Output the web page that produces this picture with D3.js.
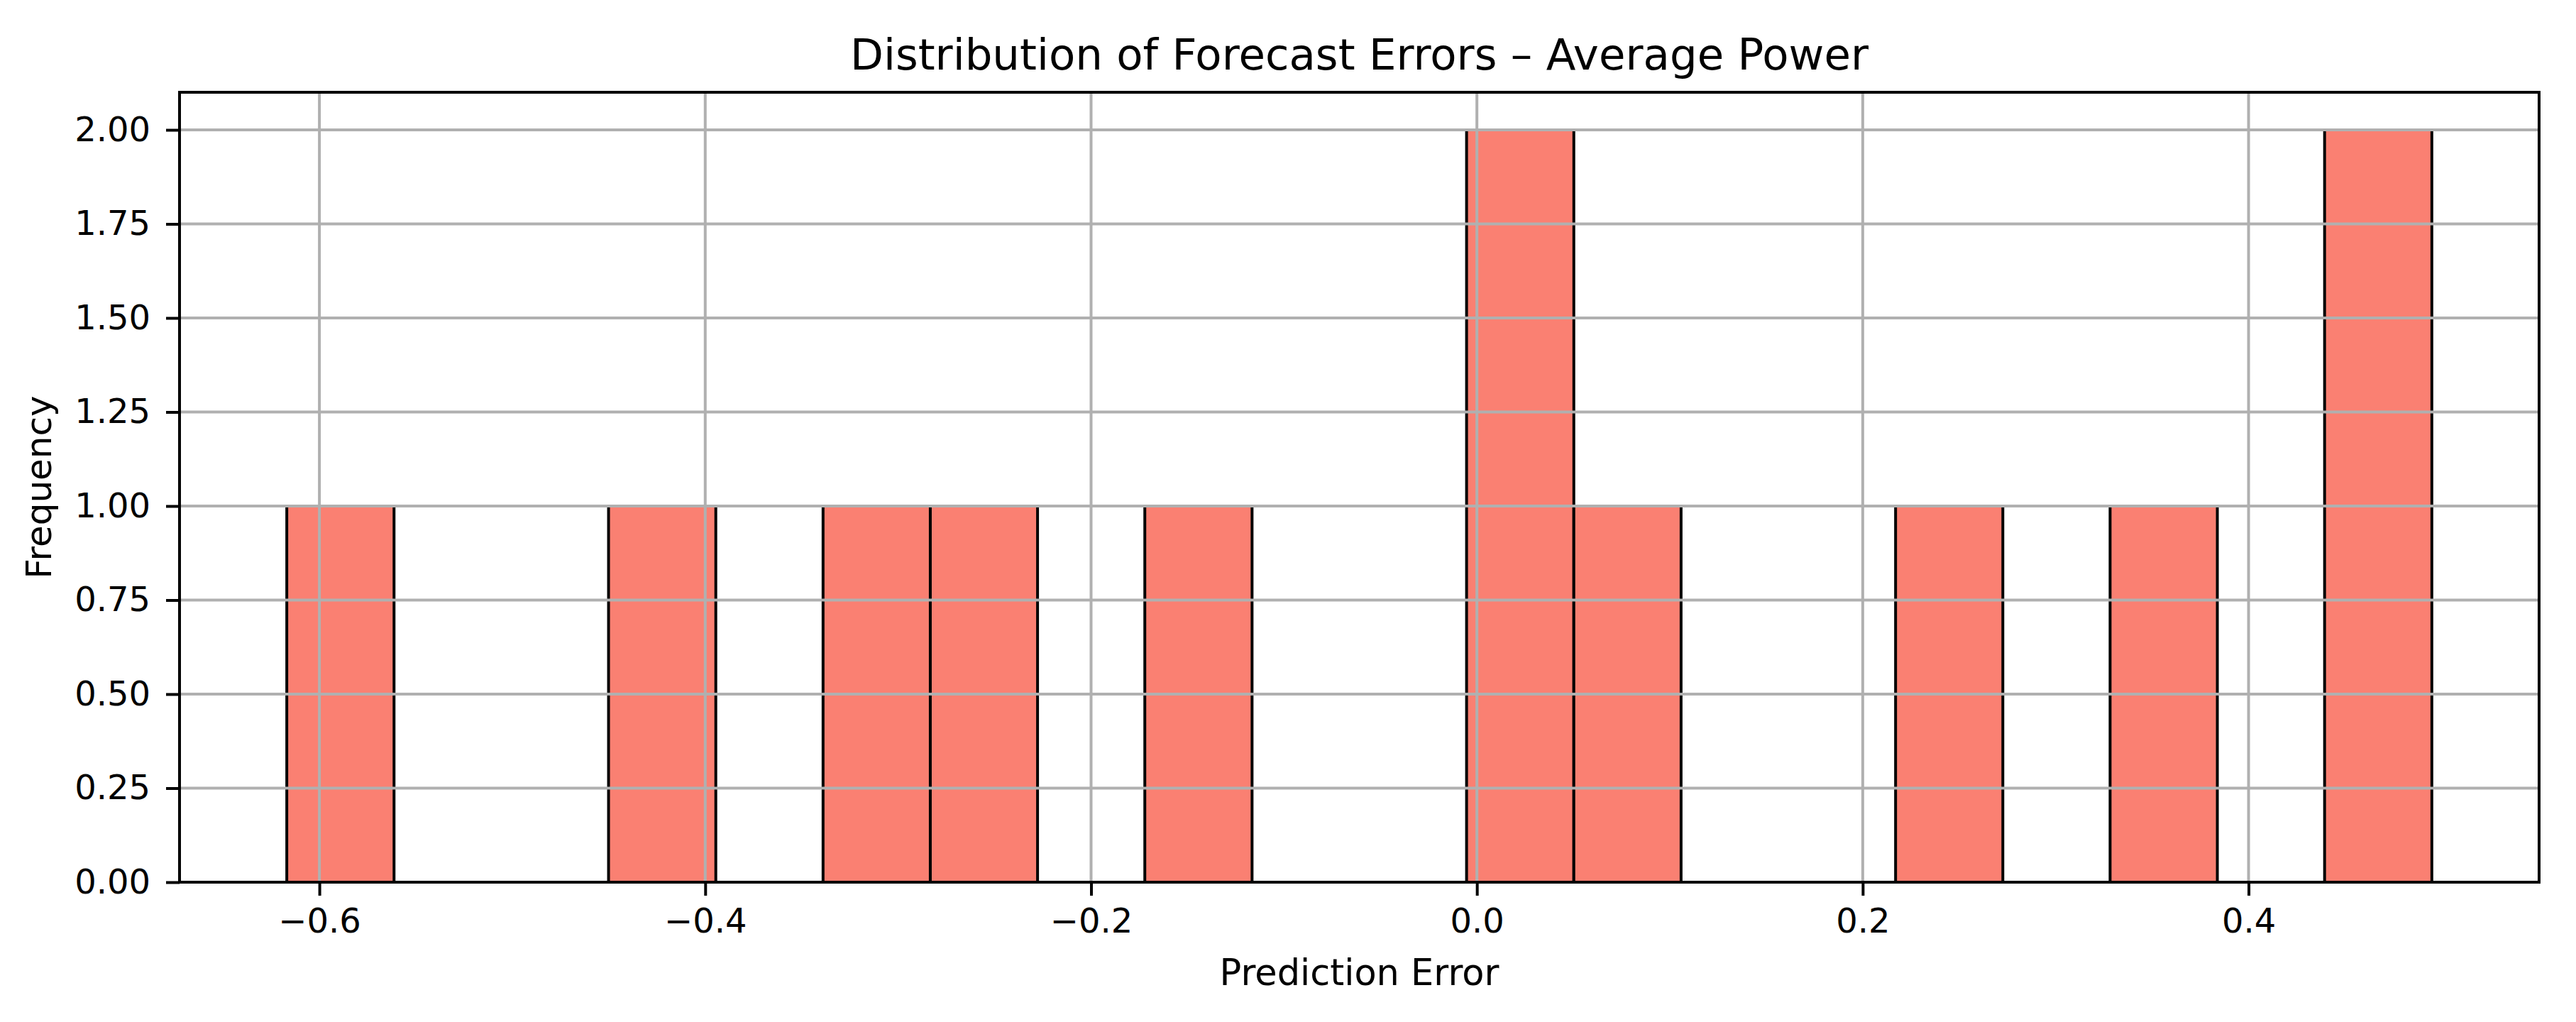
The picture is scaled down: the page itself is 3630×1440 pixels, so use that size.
<!doctype html>
<html lang="en">
<head>
    <meta charset="UTF-8" />
    <title>Distribution of Forecast Errors</title>
    <script src="https://d3js.org/d3.v7.min.js"></script>
    <style>
        body, html {
            margin: 0;
            padding: 0;
            background: #fff;
            overflow: hidden;
        }

        svg {
            display: block;
            font-family: "DejaVu Sans", sans-serif;
        }
    </style>
</head>
<body>
    <svg id="chart"></svg>

    <script>
        // histogram: 20 equal bins between the smallest and largest error
        const errMin = -0.6169;
        const errMax = 0.4950;
        const binCounts = [1, 0, 0, 1, 0, 1, 1, 0, 1, 0, 0, 2, 1, 0, 0, 1, 0, 1, 0, 2];
        const xTicks = [-0.6, -0.4, -0.2, 0.0, 0.2, 0.4];
        const yTicks = [0, 0.25, 0.5, 0.75, 1.0, 1.25, 1.5, 1.75, 2.0];

        const width = 3630;
        const height = 1440;
        const margin = { top: 130, right: 52, bottom: 197, left: 253 };

        const svg = d3.select("#chart")
            .attr("width", width)
            .attr("height", height);

        const plotW = width - margin.left - margin.right;
        const plotH = height - margin.top - margin.bottom;
        const g = svg.append("g").attr("transform", `translate(${margin.left},${margin.top})`);

        const span = errMax - errMin;
        const nBins = binCounts.length;
        const bins = binCounts.map((c, i) => ({
            x0: errMin + span * i / nBins,
            x1: errMin + span * (i + 1) / nBins,
            count: c
        }));

        const x = d3.scaleLinear()
            .domain([errMin - 0.05 * span, errMax + 0.05 * span])
            .range([0, plotW]);
        const y = d3.scaleLinear()
            .domain([0, d3.max(binCounts) * 1.05])
            .range([plotH, 0]);

        // bars
        g.selectAll("rect.bar")
            .data(bins.filter(d => d.count > 0))
            .join("rect")
            .attr("class", "bar")
            .attr("x", d => x(d.x0))
            .attr("y", d => y(d.count))
            .attr("width", d => x(d.x1) - x(d.x0))
            .attr("height", d => y(0) - y(d.count))
            .attr("fill", "#fa8072")
            .attr("stroke", "#000")
            .attr("stroke-width", 4);

        // grid over the bars, like matplotlib does
        const grid = g.append("g").attr("class", "grid");
        grid.selectAll("line.gx")
            .data(xTicks)
            .join("line")
            .attr("x1", d => x(d)).attr("x2", d => x(d))
            .attr("y1", 0).attr("y2", plotH)
            .attr("stroke", "#b0b0b0").attr("stroke-width", 4);
        grid.selectAll("line.gy")
            .data(yTicks)
            .join("line")
            .attr("x1", 0).attr("x2", plotW)
            .attr("y1", d => y(d)).attr("y2", d => y(d))
            .attr("stroke", "#b0b0b0").attr("stroke-width", 4);

        // axes
        const fmtX = d => d3.format(".1f")(d).replace("-", "\u2212");
        const xAxis = g.append("g")
            .attr("transform", `translate(0,${plotH})`)
            .call(d3.axisBottom(x).tickValues(xTicks).tickFormat(fmtX).tickSize(19).tickPadding(18));
        const yAxis = g.append("g")
            .call(d3.axisLeft(y).tickValues(yTicks).tickFormat(d3.format(".2f")).tickSize(19).tickPadding(22));

        [xAxis, yAxis].forEach(a => {
            a.select(".domain").remove();
            a.selectAll(".tick line").attr("stroke", "#000").attr("stroke-width", 4);
            a.selectAll(".tick text")
                .attr("fill", "#000")
                .style("font-family", "DejaVu Sans")
                .style("font-size", "48px");
        });

        // frame
        g.append("rect")
            .attr("x", 0).attr("y", 0)
            .attr("width", plotW).attr("height", plotH)
            .attr("fill", "none")
            .attr("stroke", "#000")
            .attr("stroke-width", 4);

        // labels
        svg.append("text")
            .attr("x", margin.left + plotW / 2)
            .attr("y", 98)
            .attr("text-anchor", "middle")
            .style("font-size", "61px")
            .text("Distribution of Forecast Errors \u2013 Average Power");

        svg.append("text")
            .attr("x", margin.left + plotW / 2)
            .attr("y", 1388)
            .attr("text-anchor", "middle")
            .style("font-size", "51px")
            .text("Prediction Error");

        svg.append("text")
            .attr("transform", `translate(72,${margin.top + plotH / 2}) rotate(-90)`)
            .attr("text-anchor", "middle")
            .style("font-size", "50px")
            .text("Frequency");
    </script>
</body>
</html>
